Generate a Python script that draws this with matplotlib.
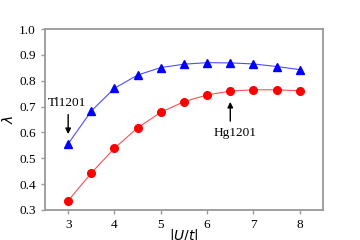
import numpy as np
import matplotlib.pyplot as plt

# |U/t| values and lambda for the two compounds
u = [3, 3.5, 4, 4.5, 5, 5.5, 6, 6.5, 7, 7.5, 8]
lam_tl = [0.556, 0.683, 0.771, 0.822, 0.851, 0.864, 0.870, 0.869, 0.865, 0.855, 0.843]
lam_hg = [0.336, 0.443, 0.539, 0.618, 0.678, 0.719, 0.745, 0.760, 0.765, 0.765, 0.761]

plt.rcParams["mathtext.fontset"] = "dejavusans"

fig, ax = plt.subplots(figsize=(3.6, 2.4), dpi=100)
fig.subplots_adjust(left=0.125, right=0.897, bottom=0.125, top=0.879)

ax.plot(u, lam_tl, color="#4d4dff", lw=0.8, zorder=2)
ax.plot(u, lam_tl, "^", color="blue", ms=5.5, zorder=3)
ax.plot(u, lam_hg, color="#ff5050", lw=0.8, zorder=2)
ax.plot(u, lam_hg, "o", color="red", ms=5.5, zorder=3)

ax.annotate("", xy=(3.0, 0.583), xytext=(3.0, 0.680),
            arrowprops=dict(arrowstyle="-|>", color="black", lw=1.0, mutation_scale=8))
ax.text(2.98, 0.714, "Tl1201", family="Liberation Serif", fontsize=9.5,
        ha="center", va="center")
ax.annotate("", xy=(6.5, 0.729), xytext=(6.5, 0.633),
            arrowprops=dict(arrowstyle="-|>", color="black", lw=1.0, mutation_scale=8))
ax.text(6.6, 0.597, "Hg1201", family="Liberation Serif", fontsize=9.5,
        ha="center", va="center")

ax.set_xlim(2.5, 8.5)
ax.set_ylim(0.3, 1.0)
ax.set_xticks([3, 4, 5, 6, 7, 8])
ax.set_yticks(np.arange(0.3, 1.01, 0.1))
ax.set_yticklabels(["%.1f" % v for v in np.arange(0.3, 1.01, 0.1)])
for lbl in ax.get_xticklabels() + ax.get_yticklabels():
    lbl.set_family("Liberation Serif")
    lbl.set_fontsize(9.5)
ax.tick_params(colors="#999999", labelcolor="black", width=1.0, length=3)
for s in ax.spines.values():
    s.set_color("#999999")
    s.set_linewidth(1.3)

ax.set_xlabel(r"$|U/t|$", fontsize=10, labelpad=-3)
ax.set_ylabel(r"$\lambda$", fontsize=10, labelpad=2)

fig.savefig("out.png", dpi=100)
